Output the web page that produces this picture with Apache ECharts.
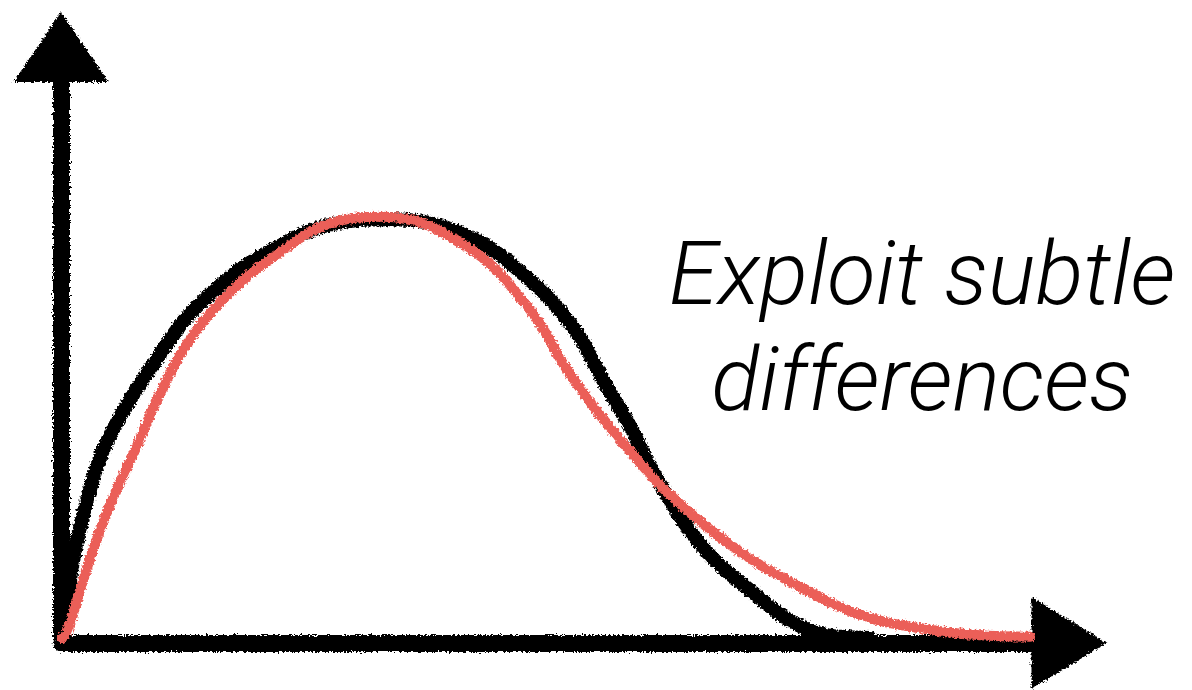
<!DOCTYPE html>
<html>
<head>
<meta charset="utf-8">
<script src="https://cdn.jsdelivr.net/npm/echarts@6/dist/echarts.min.js"></script>
<style>
  html, body { margin: 0; padding: 0; background: #fff; }
  #stage { position: relative; width: 1192px; height: 690px; }
  #plot, #caption { position: absolute; left: 0; top: 0; width: 1192px; height: 690px; }
  #plot { filter: url(#chalk); }
</style>
</head>
<body>
<svg width="0" height="0" style="position:absolute">
  <defs>
    <!-- crayon-like roughness for the strokes -->
    <filter id="chalk" x="-5%" y="-5%" width="110%" height="110%">
      <feTurbulence type="fractalNoise" baseFrequency="0.45" numOctaves="2" seed="3" result="noise"/>
      <feDisplacementMap in="SourceGraphic" in2="noise" scale="6" xChannelSelector="R" yChannelSelector="G"/>
    </filter>
  </defs>
</svg>
<div id="stage">
  <div id="plot"></div>
  <div id="caption"></div>
</div>
<script>
// Two hand-drawn density-like curves: [x, y] on a 0–100 scale
const blackCurve = [
  [0, 0], [0.2, 3], [0.5, 6.3], [1.3, 14.7], [2.5, 23], [4.1, 31.3], [6.8, 39.7],
  [10.1, 48], [12.5, 53.5], [16.1, 59.2], [19.8, 63.5], [27.1, 69], [32.8, 69.8],
  [40.5, 67], [47.1, 59.2], [51.3, 51.3], [54.1, 43], [57, 34.7], [59, 28],
  [64, 15.3], [69, 7.7], [73.8, 2], [77.8, 0.2], [80.8, 0]
];
const redCurve = [
  [0, 0], [0.6, 1.3], [1.5, 6.3], [3.1, 14.7], [5, 23], [7.3, 31.3], [9.5, 39.7],
  [12.1, 48], [14.5, 53.5], [17.8, 59.2], [21.1, 63.5], [27.1, 69.3], [32.1, 70.2],
  [40.5, 65.2], [46.8, 54.7], [50.5, 44.7], [53.8, 37.2], [57.8, 29.2], [60.5, 24.3],
  [67.1, 15.2], [73.8, 8.5], [80.5, 3.5], [87.1, 1.3], [91.5, 0.5], [96.8, 0.2]
];
const captionLines = ['Exploit subtle', 'differences'];

const INK = '#000000';
const RED = '#eb5f58';

const plot = echarts.init(document.getElementById('plot'), null, { renderer: 'canvas' });
plot.setOption({
  backgroundColor: 'transparent',
  animation: false,
  grid: { left: 62, right: 130, top: 38, bottom: 52 },
  xAxis: {
    type: 'value', min: 0, max: 100, offset: 5,
    axisLine: {
      show: true, onZero: false,
      symbol: ['none', 'triangle'], symbolSize: [92, 75], symbolOffset: [0, 7],
      lineStyle: { color: INK, width: 17 }
    },
    axisTick: { show: false }, axisLabel: { show: false }, splitLine: { show: false }
  },
  yAxis: {
    type: 'value', min: 0, max: 100, offset: 1,
    axisLine: {
      show: true, onZero: false,
      symbol: ['none', 'triangle'], symbolSize: [95, 70], symbolOffset: [0, -9],
      lineStyle: { color: INK, width: 17 }
    },
    axisTick: { show: false }, axisLabel: { show: false }, splitLine: { show: false }
  },
  series: [
    {
      type: 'line', data: blackCurve, smooth: 0.4, showSymbol: false, clip: false,
      lineStyle: { color: INK, width: 14, cap: 'round', join: 'round' }, z: 3
    },
    {
      type: 'line', data: redCurve, smooth: 0.4, showSymbol: false, clip: false,
      lineStyle: { color: RED, width: 10, cap: 'round', join: 'round' }, z: 4
    }
  ]
});

const caption = echarts.init(document.getElementById('caption'), null, { renderer: 'canvas' });
caption.setOption({
  backgroundColor: 'transparent',
  animation: false,
  graphic: captionLines.map((line, i) => ({
    type: 'text',
    x: 922, y: 282 + i * 106,
    style: {
      text: line,
      fill: '#000',
      font: 'italic 300 89px Roboto, "Liberation Sans", sans-serif',
      align: 'center',
      verticalAlign: 'middle'
    }
  }))
});
</script>
</body>
</html>
